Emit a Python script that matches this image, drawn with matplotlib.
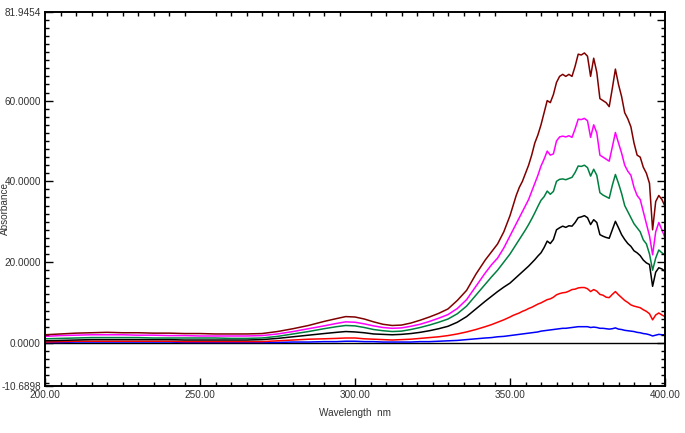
import matplotlib
matplotlib.use("Agg")
import matplotlib.pyplot as plt
from matplotlib.ticker import MultipleLocator, FixedLocator

wavelength = [200, 205, 210, 215, 220, 225, 230, 235, 240, 245, 250, 255, 260, 265, 270, 275, 280, 285, 290,
              294, 297, 300, 303, 306, 309, 312, 315, 318, 321, 324, 327, 330, 333, 336, 339, 342,
              344, 346, 348, 350,
              351, 352, 353, 354, 355, 356, 357, 358, 359, 360, 361, 362, 363, 364, 365, 366, 367, 368, 369, 370,
              371, 372, 373, 374, 375, 376, 377, 378, 379, 380, 381, 382, 383, 384, 385, 386, 387, 388, 389, 390,
              391, 392, 393, 394, 395, 396, 397, 398, 399, 400]

maroon = [2.0, 2.2, 2.4, 2.5, 2.6, 2.5, 2.5, 2.4, 2.4, 2.3, 2.3, 2.2, 2.2, 2.2, 2.3, 2.8, 3.5, 4.3, 5.3,
          6.0, 6.5, 6.4, 5.9, 5.2, 4.6, 4.3, 4.4, 4.9, 5.6, 6.4, 7.3, 8.4, 10.5, 13.0, 17.0, 20.5,
          22.5, 24.5, 27.5, 31.5,
          34.0, 36.5, 38.5, 40.0, 42.0, 44.0, 46.5, 49.5, 51.5, 54.0, 57.0, 60.0, 59.5, 61.5, 64.5, 66.0, 66.5, 66.0, 66.5, 66.0,
          68.5, 71.5, 71.3, 71.8, 71.0, 66.0, 70.5, 67.0, 60.5, 60.0, 59.5, 58.5, 63.0, 67.8, 64.0, 61.0, 57.0, 55.5, 53.5, 49.5,
          46.5, 46.0, 43.5, 42.0, 39.5, 28.0, 35.0, 36.5, 35.5, 33.8]

magenta = [1.6, 1.8, 1.9, 2.0, 2.0, 2.0, 1.9, 1.9, 1.8, 1.8, 1.7, 1.7, 1.7, 1.7, 1.8, 2.2, 2.8, 3.5, 4.2,
           4.8, 5.2, 5.1, 4.7, 4.2, 3.8, 3.6, 3.7, 4.1, 4.6, 5.3, 6.1, 7.0, 8.5, 10.7, 14.0, 17.3,
           19.3, 21.0, 23.5, 26.5,
           28.0, 29.5, 31.0, 32.5, 34.0, 35.5, 37.5, 39.5, 41.5, 43.8, 45.5, 47.5, 46.5, 46.8, 50.0, 51.0, 51.2, 51.0, 51.3, 50.9,
           53.0, 55.4, 55.3, 55.6, 55.0, 50.9, 54.0, 52.0, 46.5, 46.0, 45.5, 45.0, 48.5, 52.1, 49.5, 47.0, 44.0, 42.5, 41.5, 38.5,
           36.5, 35.5, 32.5, 29.5, 26.5, 21.8, 27.5, 29.8, 28.0, 26.0]

green = [1.0, 1.1, 1.2, 1.3, 1.3, 1.3, 1.3, 1.2, 1.2, 1.2, 1.2, 1.2, 1.1, 1.1, 1.2, 1.6, 2.2, 2.8, 3.5,
         4.0, 4.3, 4.2, 3.8, 3.3, 3.0, 2.8, 2.9, 3.3, 3.8, 4.4, 5.1, 5.9, 7.2, 9.1, 11.8, 14.5,
         16.3, 18.0, 20.0, 22.0,
         23.2, 24.4, 25.6, 26.8, 28.0, 29.3, 30.7, 32.2, 33.8, 35.3, 36.2, 37.6, 36.8, 37.5, 40.0, 40.5, 40.6, 40.4, 40.7, 41.0,
         42.2, 43.8, 43.7, 44.0, 43.4, 41.3, 43.0, 41.5, 37.2, 36.6, 36.2, 35.8, 39.0, 41.7, 39.5, 37.0, 34.0, 32.5, 31.0, 29.5,
         28.5, 27.5, 25.5, 24.5, 22.0, 18.0, 21.0, 23.0, 22.3, 21.8]

black = [0.5, 0.6, 0.7, 0.8, 0.8, 0.8, 0.8, 0.8, 0.8, 0.7, 0.7, 0.7, 0.7, 0.7, 0.8, 1.1, 1.5, 1.9, 2.3,
         2.6, 2.8, 2.7, 2.5, 2.2, 2.1, 2.0, 2.1, 2.3, 2.6, 3.0, 3.5, 4.1, 5.1, 6.5, 8.4, 10.3,
         11.5, 12.7, 13.8, 14.8,
         15.5, 16.2, 16.9, 17.6, 18.3, 19.0, 19.8, 20.6, 21.5, 22.3, 23.6, 25.2, 24.6, 25.6, 28.0, 28.5, 28.9, 28.6, 29.0, 28.9,
         29.8, 31.0, 31.2, 31.5, 31.0, 29.3, 30.5, 29.8, 26.8, 26.4, 26.1, 25.9, 28.0, 30.1, 28.5, 26.8, 25.6, 24.6, 23.9, 22.8,
         22.3, 21.6, 20.5, 19.8, 19.4, 14.0, 17.5, 18.6, 18.3, 17.7]

red = [0.2, 0.3, 0.4, 0.4, 0.4, 0.4, 0.4, 0.4, 0.4, 0.3, 0.3, 0.3, 0.3, 0.3, 0.3, 0.5, 0.7, 0.9, 1.0,
       1.1, 1.2, 1.2, 1.0, 0.9, 0.8, 0.7, 0.8, 0.9, 1.1, 1.3, 1.5, 1.8, 2.2, 2.7, 3.3, 4.0,
       4.5, 5.1, 5.7, 6.4,
       6.8, 7.1, 7.4, 7.8, 8.1, 8.5, 8.8, 9.2, 9.6, 9.9, 10.3, 10.7, 10.9, 11.3, 11.9, 12.2, 12.4, 12.5, 12.8, 13.2,
       13.3, 13.6, 13.7, 13.7, 13.4, 12.7, 13.2, 12.8, 12.0, 11.8, 11.3, 11.2, 12.0, 12.7, 11.9, 11.2, 10.5, 10.0, 9.4, 9.1,
       8.9, 8.7, 8.2, 7.8, 7.2, 5.7, 6.9, 7.4, 6.9, 6.5]

blue = [0.1, 0.1, 0.2, 0.2, 0.2, 0.2, 0.2, 0.2, 0.2, 0.1, 0.1, 0.1, 0.1, 0.1, 0.1, 0.1, 0.2, 0.2, 0.3,
        0.3, 0.4, 0.4, 0.3, 0.3, 0.2, 0.2, 0.2, 0.2, 0.3, 0.3, 0.4, 0.5, 0.6, 0.8, 1.0, 1.2,
        1.3, 1.5, 1.6, 1.8,
        1.9, 2.0, 2.1, 2.2, 2.3, 2.4, 2.5, 2.6, 2.7, 2.9, 3.0, 3.1, 3.2, 3.3, 3.4, 3.5, 3.6, 3.6, 3.7, 3.8,
        3.9, 4.0, 4.0, 4.0, 4.0, 3.8, 3.9, 3.8, 3.6, 3.6, 3.5, 3.4, 3.5, 3.7, 3.4, 3.3, 3.1, 3.0, 2.9, 2.8,
        2.6, 2.5, 2.3, 2.2, 2.0, 1.7, 1.9, 2.1, 2.0, 2.0]

series = [(blue, "#0000ff"), (red, "#ff0000"), (black, "#000000"),
          (green, "#008040"), (magenta, "#ff00ff"), (maroon, "#800000")]

x_ticks = [200, 250, 300, 350, 400]
y_min, y_max = -10.6898, 81.9454
y_ticks = [y_min, 0, 20, 40, 60, y_max]

plt.rcParams['font.family'] = ['Liberation Sans', 'DejaVu Sans']
fig = plt.figure(figsize=(6.85, 4.33), dpi=100)
ax = fig.add_axes([45/685, 1-386/433, 620/685, 374/433])

ax.axhline(0, color='black', lw=1.0, zorder=1)
for vals, col in series:
    ax.plot(wavelength, vals, color=col, lw=1.1, zorder=2)

ax.set_xlim(200, 400)
ax.set_ylim(y_min, y_max)
ax.set_xticks(x_ticks)
ax.set_xticklabels([f"{v:.2f}" for v in x_ticks])
ax.set_yticks(y_ticks)
ax.set_yticklabels([f"{v:.4f}" for v in y_ticks])
ax.xaxis.set_minor_locator(MultipleLocator(5))
ax.yaxis.set_minor_locator(MultipleLocator(2))
ax.tick_params(which='both', direction='in', top=True, right=False, colors='black',
               labelcolor='#333333', labelsize=7.2, width=1)
ax.tick_params(which='major', length=6, pad=3)
ax.tick_params(which='minor', length=3)
ax.tick_params(axis='x', which='major', top=False)

axr = ax.twinx()
axr.set_ylim(y_min, y_max)
axr.yaxis.set_major_locator(FixedLocator([0, 20, 40, 60, 80]))
axr.yaxis.set_minor_locator(MultipleLocator(2))
axr.tick_params(which='both', direction='in', labelright=False, width=1)
axr.tick_params(which='major', length=6)
axr.tick_params(which='minor', length=3)

for a in (ax, axr):
    for s in a.spines.values():
        s.set_linewidth(1.2)
        s.set_color('black')

ax.set_xlabel("Wavelength  nm", fontsize=7.2, color='#333333')
ax.xaxis.set_label_coords(0.5, -0.058)
ax.set_ylabel("Absorbance", fontsize=7.2, color='#333333')
ax.yaxis.set_label_coords(-0.056, 0.475)

fig.savefig("out.png", dpi=100)
